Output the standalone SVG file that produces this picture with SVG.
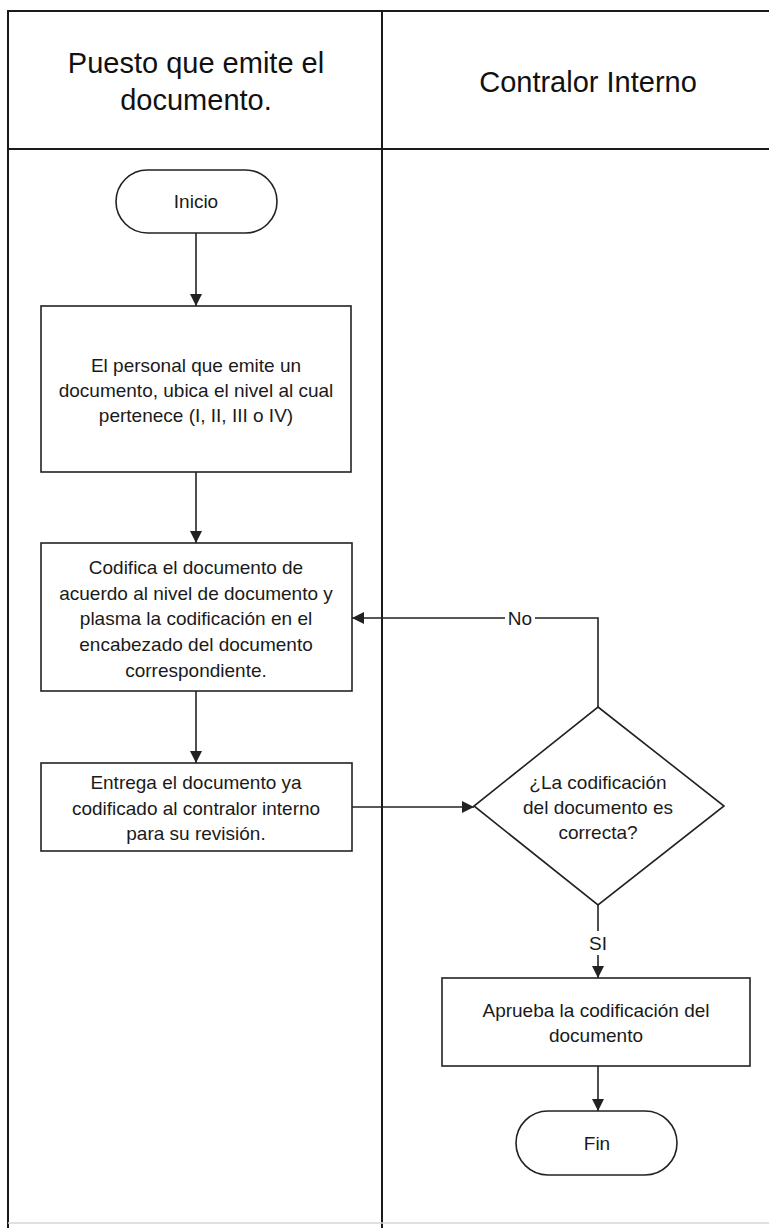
<svg xmlns="http://www.w3.org/2000/svg" width="769" height="1228" viewBox="0 0 769 1228">
  <style>
    .frame { stroke: #1a1a1a; stroke-width: 2; fill: none; }
    .shape { fill: #ffffff; stroke: #222222; stroke-width: 1.6; }
    .conn { fill: none; stroke: #222222; stroke-width: 1.6; }
    .hdr { font-family: "Liberation Sans", Arial, sans-serif; font-size: 29px; fill: #111111; text-anchor: middle; }
    .txt { font-family: "Liberation Sans", Arial, sans-serif; font-size: 19px; fill: #1a1a1a; text-anchor: middle; }
    .lbl { font-family: "Liberation Sans", Arial, sans-serif; font-size: 19px; fill: #1a1a1a; text-anchor: middle; }
  </style>
  <defs>
    <marker id="arrow" viewBox="0 0 12 12" refX="12" refY="6" markerWidth="12" markerHeight="12" markerUnits="userSpaceOnUse" orient="auto">
      <path d="M0,0 L12,6 L0,12 Z" fill="#222222"/>
    </marker>
  </defs>
  <rect x="0" y="0" width="769" height="1228" fill="#ffffff"/>

  <g id="swimlanes">
    <line class="frame" x1="8" y1="11" x2="769" y2="11"/>
    <line class="frame" x1="8" y1="149" x2="769" y2="149"/>
    <line class="frame" x1="8" y1="10" x2="8" y2="1228"/>
    <line class="frame" x1="382" y1="11" x2="382" y2="1228"/>
    <line x1="8" y1="1223" x2="769" y2="1223" stroke="#d6d6d6" stroke-width="1.5"/>
    <text class="hdr" x="196" y="73">Puesto que emite el</text>
    <text class="hdr" x="196" y="110">documento.</text>
    <text class="hdr" x="588" y="92">Contralor Interno</text>
  </g>

  <g id="connectors">
    <line class="conn" x1="196" y1="233" x2="196" y2="306" marker-end="url(#arrow)"/>
    <line class="conn" x1="196" y1="472" x2="196" y2="543" marker-end="url(#arrow)"/>
    <line class="conn" x1="196" y1="691" x2="196" y2="763" marker-end="url(#arrow)"/>
    <line class="conn" x1="352" y1="807" x2="474" y2="807" marker-end="url(#arrow)"/>
    <polyline class="conn" points="598,707 598,618 352,618" marker-end="url(#arrow)"/>
    <line class="conn" x1="598" y1="905" x2="598" y2="978" marker-end="url(#arrow)"/>
    <line class="conn" x1="598" y1="1066" x2="598" y2="1111" marker-end="url(#arrow)"/>
    <rect x="505" y="606" width="30" height="24" fill="#ffffff"/>
    <text class="lbl" x="520" y="625">No</text>
    <rect x="588" y="931" width="20" height="24" fill="#ffffff"/>
    <text class="lbl" x="598" y="950">SI</text>
  </g>

  <g id="inicio">
    <rect class="shape" x="116" y="170" width="161" height="63" rx="31.5" ry="31.5"/>
    <text class="txt" x="196" y="208">Inicio</text>
  </g>

  <g id="ubicar-nivel">
    <rect class="shape" x="41" y="306" width="310" height="166"/>
    <text class="txt" x="196" y="372">El personal que emite un</text>
    <text class="txt" x="196" y="397">documento, ubica el nivel al cual</text>
    <text class="txt" x="196" y="422">pertenece (I, II, III o IV)</text>
  </g>

  <g id="codificar">
    <rect class="shape" x="41" y="543" width="311" height="148"/>
    <text class="txt" x="196" y="574">Codifica el documento de</text>
    <text class="txt" x="196" y="600">acuerdo al nivel de documento y</text>
    <text class="txt" x="196" y="625">plasma la codificación en el</text>
    <text class="txt" x="196" y="651">encabezado del documento</text>
    <text class="txt" x="196" y="677">correspondiente.</text>
  </g>

  <g id="entregar">
    <rect class="shape" x="41" y="763" width="311" height="88"/>
    <text class="txt" x="196" y="789">Entrega el documento ya</text>
    <text class="txt" x="196" y="815">codificado al contralor interno</text>
    <text class="txt" x="196" y="840">para su revisión.</text>
  </g>

  <g id="decision">
    <polygon class="shape" points="598,707 724,806 598,905 474,806"/>
    <text class="txt" x="598" y="789">¿La codificación</text>
    <text class="txt" x="598" y="814">del documento es</text>
    <text class="txt" x="598" y="839">correcta?</text>
  </g>

  <g id="aprobar">
    <rect class="shape" x="442" y="978" width="308" height="88"/>
    <text class="txt" x="596" y="1017">Aprueba la codificación del</text>
    <text class="txt" x="596" y="1042">documento</text>
  </g>

  <g id="fin">
    <rect class="shape" x="516" y="1111" width="161" height="64" rx="32" ry="32"/>
    <text class="txt" x="597" y="1150">Fin</text>
  </g>
</svg>
